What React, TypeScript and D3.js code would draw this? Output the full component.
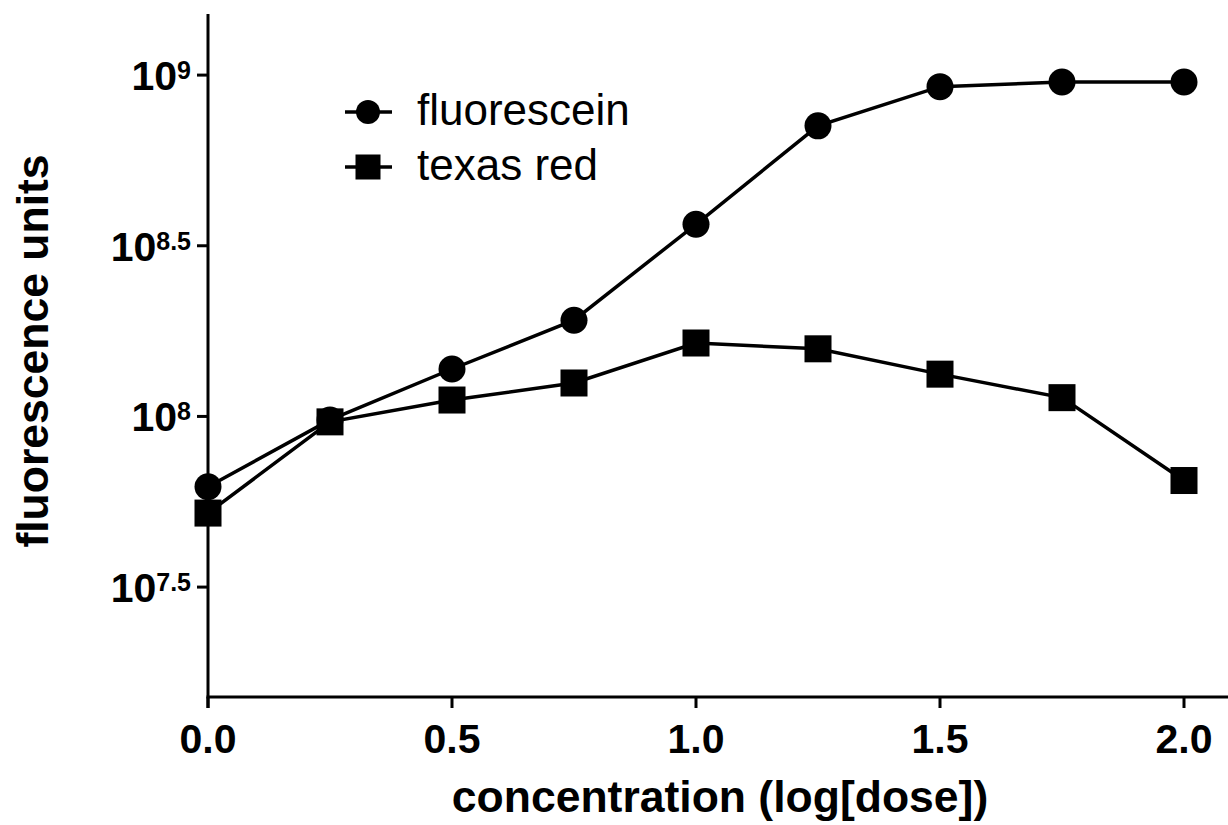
import React from "react";
import * as d3 from "d3";

const doses = [0, 0.25, 0.5, 0.75, 1.0, 1.25, 1.5, 1.75, 2.0];
const fluorescein = [6.22e7, 9.77e7, 1.377e8, 1.914e8, 3.656e8, 7.1e8, 9.25e8, 9.55e8, 9.55e8];
const texasRed = [5.21e7, 9.64e7, 1.117e8, 1.253e8, 1.641e8, 1.578e8, 1.33e8, 1.135e8, 6.49e7];
const xTicks = [0, 0.5, 1.0, 1.5, 2.0];
const yTickExponents = ["7.5", "8", "8.5", "9"];
const seriesNames = ["fluorescein", "texas red"];

const W = 1228;
const H = 825;
const FONT = "'Liberation Sans', Arial, Helvetica, sans-serif";

export default function App() {
  const x = d3.scaleLinear().domain([0, 2]).range([208, 1184]);
  const y = d3.scaleLog().domain([Math.pow(10, 7.178), Math.pow(10, 9.179)]).range([697, 14]);
  const line = d3
    .line<[number, number]>()
    .x((d) => x(d[0]))
    .y((d) => y(d[1]));
  const fPts: [number, number][] = doses.map((d, i) => [d, fluorescein[i]]);
  const tPts: [number, number][] = doses.map((d, i) => [d, texasRed[i]]);
  const r = 13.5;
  const s = 27;
  const sw = 3.5;

  return (
    <svg width={W} height={H} style={{ position: "absolute", left: 0, top: 0, background: "#fff" }}>
      <rect x={0} y={0} width={W} height={H} fill="#fff" />
      {/* axes */}
      <line x1={208} y1={14} x2={208} y2={708} stroke="#000" strokeWidth={3} />
      <line x1={206.5} y1={697} x2={1228} y2={697} stroke="#000" strokeWidth={3} />
      {xTicks.map((t) => (
        <g key={"xt" + t}>
          <line x1={x(t)} y1={697} x2={x(t)} y2={708} stroke="#000" strokeWidth={3} />
          <text
            x={x(t)}
            y={753}
            textAnchor="middle"
            fontFamily={FONT}
            fontWeight="bold"
            fontSize={41}
            fill="#000"
          >
            {t.toFixed(1)}
          </text>
        </g>
      ))}
      {yTickExponents.map((e) => {
        const yy = y(Math.pow(10, parseFloat(e)));
        return (
          <g key={"yt" + e}>
            <line x1={197} y1={yy} x2={208} y2={yy} stroke="#000" strokeWidth={3} />
            <text
              x={191}
              y={yy + 15}
              textAnchor="end"
              fontFamily={FONT}
              fontWeight="bold"
              fontSize={41}
              fill="#000"
            >
              10
              <tspan dy={-11} fontSize={25}>
                {e}
              </tspan>
            </text>
          </g>
        );
      })}
      {/* axis titles */}
      <text
        x={720}
        y={812}
        textAnchor="middle"
        fontFamily={FONT}
        fontWeight="bold"
        fontSize={44.5}
        fill="#000"
      >
        concentration (log[dose])
      </text>
      <text
        transform="translate(48,351) rotate(-90)"
        textAnchor="middle"
        fontFamily={FONT}
        fontWeight="bold"
        fontSize={44.5}
        fill="#000"
      >
        fluorescence units
      </text>
      {/* series */}
      <path d={line(fPts) || ""} fill="none" stroke="#000" strokeWidth={sw} />
      <path d={line(tPts) || ""} fill="none" stroke="#000" strokeWidth={sw} />
      {fPts.map((p, i) => (
        <circle key={"c" + i} cx={x(p[0])} cy={y(p[1])} r={r} fill="#000" />
      ))}
      {tPts.map((p, i) => (
        <rect key={"s" + i} x={x(p[0]) - s / 2} y={y(p[1]) - s / 2} width={s} height={s} fill="#000" />
      ))}
      {/* legend */}
      <g>
        <line x1={345} y1={112} x2={392} y2={112} stroke="#000" strokeWidth={sw} />
        <circle cx={368} cy={112} r={12} fill="#000" />
        <text x={417} y={125} fontFamily={FONT} fontSize={44} fill="#000">
          {seriesNames[0]}
        </text>
        <line x1={345} y1={167} x2={392} y2={167} stroke="#000" strokeWidth={sw} />
        <rect x={368 - 12.5} y={167 - 12.5} width={25} height={25} fill="#000" />
        <text x={417} y={180} fontFamily={FONT} fontSize={44} fill="#000">
          {seriesNames[1]}
        </text>
      </g>
    </svg>
  );
}
